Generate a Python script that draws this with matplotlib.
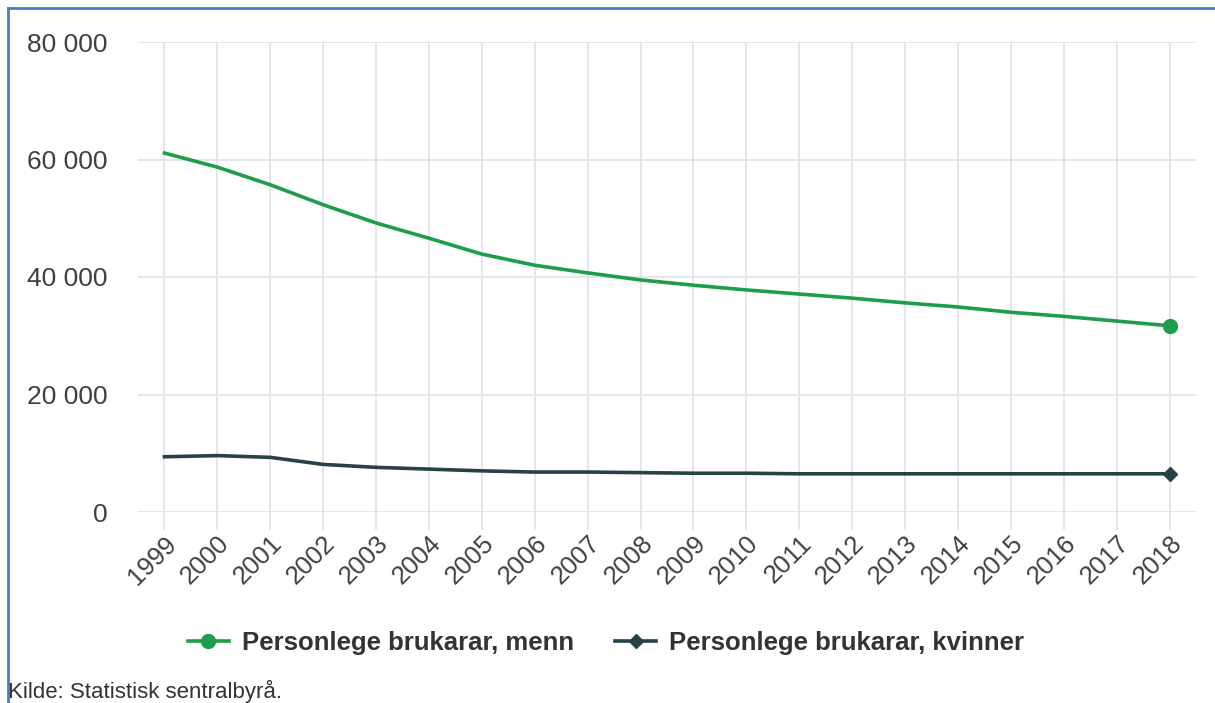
import matplotlib
matplotlib.use("Agg")
import matplotlib.pyplot as plt
from matplotlib.lines import Line2D
from matplotlib.ticker import FuncFormatter

plt.rcParams['font.family'] = ['Liberation Sans', 'DejaVu Sans']

years = list(range(1999, 2019))
menn = [61100, 58700, 55700, 52300, 49200, 46600, 43900, 42000, 40700, 39500,
        38600, 37800, 37100, 36400, 35600, 34900, 34000, 33300, 32500, 31700]
kvinner = [9400, 9600, 9300, 8100, 7600, 7300, 7000, 6800, 6800, 6700,
           6600, 6600, 6500, 6500, 6500, 6500, 6500, 6500, 6500, 6500]
labels = ["Personlege brukarar, menn", "Personlege brukarar, kvinner"]
green = "#1e9e4a"
dark = "#274247"
grid_c = "#e3e3e8"
text_c = "#404040"

fig = plt.figure(figsize=(12.15, 7.03), dpi=100, facecolor="white")
ax = fig.add_axes([138/1215, 1 - 512/703, (1196-138)/1215, (512-42)/703])

ax.plot(years, menn, color=green, lw=2.6, zorder=3)
ax.plot(years[-1], menn[-1], 'o', color=green, ms=10, zorder=4)
ax.plot(years, kvinner, color=dark, lw=2.6, zorder=3)
ax.plot(years[-1], kvinner[-1], 'D', color=dark, ms=7.5, zorder=4)

ax.set_xlim(1998.5, 2018.5)
ax.set_ylim(0, 80000)
ax.set_yticks([0, 20000, 40000, 60000, 80000])
ax.yaxis.set_major_formatter(FuncFormatter(lambda v, p: f"{int(v):,}".replace(",", " ")))
ax.set_xticks(years)
ax.set_xticklabels([str(y) for y in years], rotation=45, ha="right", rotation_mode="anchor")
ax.grid(True, color=grid_c, lw=1.3)
ax.set_axisbelow(True)
for s in ax.spines.values():
    s.set_visible(False)
ax.tick_params(axis="y", length=0, pad=22, labelsize=19, labelcolor=text_c)
ax.tick_params(axis="x", length=13, width=1.3, color=grid_c, pad=1, labelsize=18.5, labelcolor=text_c)

handles = [Line2D([], [], color=green, lw=2.6, marker='o', ms=10),
           Line2D([], [], color=dark, lw=2.6, marker='D', ms=7.5)]
leg = fig.legend(handles, labels, loc="center", bbox_to_anchor=(606/1215, 1 - 643/703), ncol=2,
                 frameon=False, handlelength=1.6, handletextpad=0.5, columnspacing=1.6,
                 prop={"size": 18.5, "weight": "bold"})
for t in leg.get_texts():
    t.set_color("#333333")

fig.text(8/1215, 1 - 691/703, "Kilde: Statistisk sentralbyrå.", fontsize=16,
         color="#333333", ha="left", va="center")

# blue frame on top and left
fig.add_artist(Line2D([8/1215, 1], [1 - 8/703, 1 - 8/703], color="#4a7cc0", lw=2))
fig.add_artist(Line2D([8/1215, 8/1215], [0, 1 - 8/703], color="#4a7cc0", lw=2))

fig.savefig("out.png", dpi=100, facecolor="white")
